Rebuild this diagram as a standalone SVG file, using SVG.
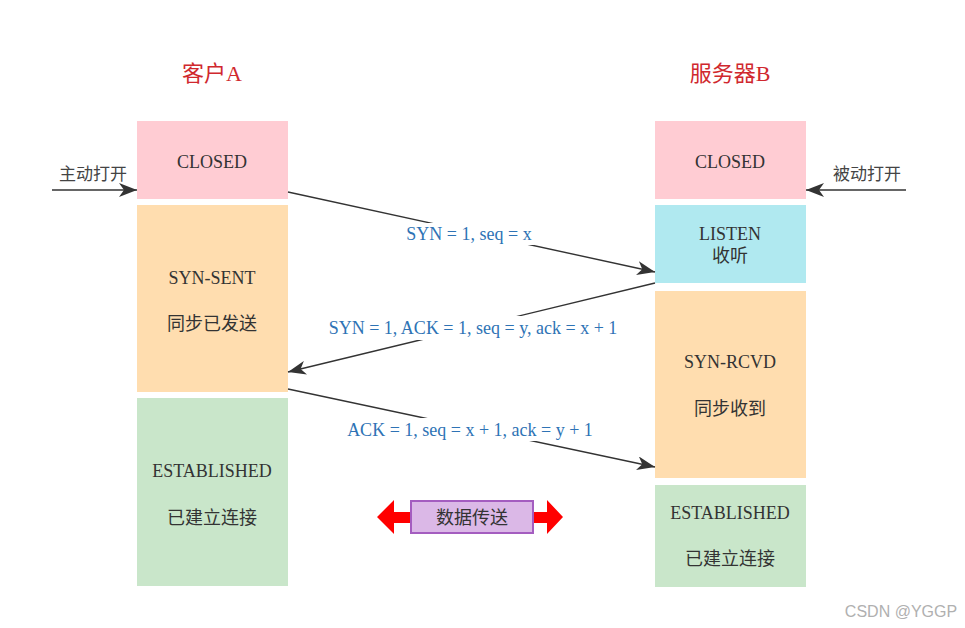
<svg xmlns="http://www.w3.org/2000/svg" width="965" height="628" viewBox="0 0 965 628">
<defs>
<style>
.t{font-family:"Liberation Serif","Noto Sans CJK SC",serif;font-size:18px;fill:#333;text-anchor:middle}
.title{font-family:"Liberation Serif","Noto Sans CJK SC",serif;font-size:22px;fill:#D0282E;text-anchor:middle}
.side{font-family:"Liberation Serif","Noto Sans CJK SC",serif;font-size:17px;fill:#444;text-anchor:middle}
.lbl{font-family:"Liberation Serif","Noto Sans CJK SC",serif;font-size:18px;fill:#2E73B5;text-anchor:middle}
.ln{stroke:#333;stroke-width:1.4;fill:none;marker-end:url(#ah)}
.pink{fill:#FFCCD3}.peach{fill:#FFDDAF}.cyan{fill:#B0E9F0}.green{fill:#C9E6CA}
</style>
<marker id="ah" markerUnits="userSpaceOnUse" markerWidth="20" markerHeight="14" refX="18" refY="7" orient="auto">
<path d="M0,0 L18,7 L0,14 L5,7 Z" fill="#333"/>
</marker>
</defs>
<rect width="965" height="628" fill="#fff"/>
<text class="title" x="212" y="81">客户A</text>
<text class="title" x="730" y="81">服务器B</text>
<g id="a-closed"><rect class="pink" x="137" y="121" width="151" height="78"/><text class="t" x="212" y="168">CLOSED</text></g>
<g id="a-synsent"><rect class="peach" x="137" y="205" width="151" height="187"/><text class="t" x="212" y="284">SYN-SENT</text><text class="t" x="212" y="330">同步已发送</text></g>
<g id="a-est"><rect class="green" x="137" y="398" width="151" height="188"/><text class="t" x="212" y="477">ESTABLISHED</text><text class="t" x="212" y="524">已建立连接</text></g>
<g id="b-closed"><rect class="pink" x="655" y="121" width="151" height="78"/><text class="t" x="730" y="168">CLOSED</text></g>
<g id="b-listen"><rect class="cyan" x="655" y="205" width="151" height="78"/><text class="t" x="730" y="240">LISTEN</text><text class="t" x="730" y="262">收听</text></g>
<g id="b-synrcvd"><rect class="peach" x="655" y="291" width="151" height="187"/><text class="t" x="730" y="368">SYN-RCVD</text><text class="t" x="730" y="415">同步收到</text></g>
<g id="b-est"><rect class="green" x="655" y="485" width="151" height="102"/><text class="t" x="730" y="519">ESTABLISHED</text><text class="t" x="730" y="565">已建立连接</text></g>
<g id="data"><path d="M377,517 L394,500 L394,512 L411,512 L411,523 L394,523 L394,534 Z" fill="#FF0000"/><path d="M563,517 L547,500 L547,512 L533,512 L533,523 L547,523 L547,534 Z" fill="#FF0000"/><rect x="411" y="501" width="122" height="32" fill="#DBB8E7" stroke="#A45DC0" stroke-width="2"/><text class="t" x="472" y="524">数据传送</text></g>
<g id="connectors">
<line class="ln" x1="52" y1="190" x2="137" y2="190"/>
<line class="ln" x1="906" y1="190" x2="806" y2="190"/>
<line class="ln" x1="288" y1="192" x2="655" y2="272"/>
<line class="ln" x1="655" y1="283" x2="288" y2="372"/>
<line class="ln" x1="288" y1="389" x2="655" y2="467"/>
<rect x="404" y="223" width="130" height="22" fill="#fff"/>
<rect x="322" y="316" width="302" height="24" fill="#fff"/>
<rect x="344" y="418" width="254" height="23" fill="#fff"/>
<text class="lbl" x="469" y="240">SYN = 1, seq = x</text>
<text class="lbl" x="473" y="334">SYN = 1, ACK = 1, seq = y, ack = x + 1</text>
<text class="lbl" x="470" y="436">ACK = 1, seq = x + 1, ack = y + 1</text>
<text class="side" x="93" y="180">主动打开</text>
<text class="side" x="867" y="180">被动打开</text>
</g>
<text x="901" y="617" font-family="Liberation Sans,Arial,sans-serif" font-size="16" fill="#B0B0B0" text-anchor="middle">CSDN @YGGP</text>
</svg>
